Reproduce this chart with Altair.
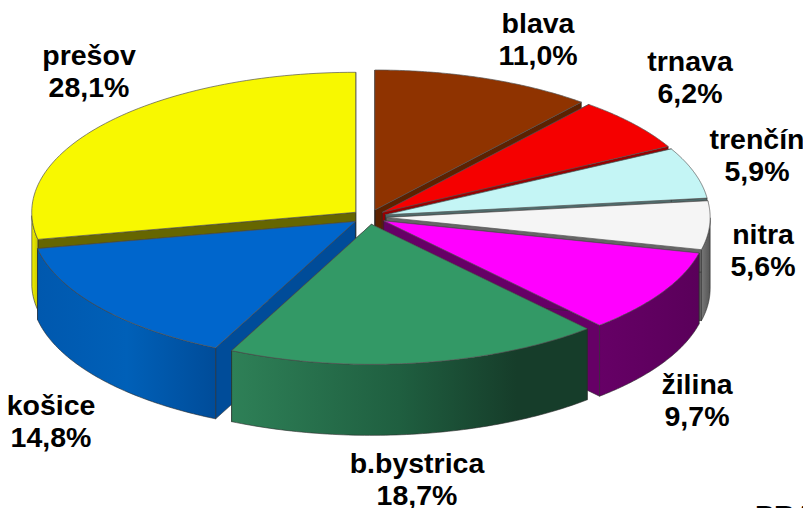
import math
import altair as alt

# --- values
names = ["blava", "trnava", "trenčín", "nitra", "žilina", "b.bystrica", "košice", "prešov"]
shares = [11.0, 6.2, 5.9, 5.6, 9.7, 18.7, 14.8, 28.1]
share_labels = ["11,0%", "6,2%", "5,9%", "5,6%", "9,7%", "18,7%", "14,8%", "28,1%"]

# --- styles
top_colors = ["#8F3300", "#F50000", "#C4F5F5", "#F5F5F5", "#FF00FF", "#339966", "#0066CC", "#F8F800"]
cut_colors = ["#5C2100", "#990000", "#4F6B6B", "#666666", "#660066", "#1D5A3C", "#004C99", "#666600"]
wall_stops = [
    [("#5C2100", 0), ("#5C2100", 1)],
    [("#990000", 0), ("#990000", 1)],
    [("#7FA0A0", 0), ("#7FA0A0", 1)],
    [("#777777", 0), ("#555555", 1)],
    [("#660066", 0), ("#5A005A", 1)],
    [("#2E8057", 0), ("#1F5F40", 0.47), ("#163D2A", 0.8), ("#163D2A", 1)],
    [("#0058AE", 0), ("#0060B8", 0.5), ("#004C99", 1)],
    [("#F0F000", 0), ("#C8C800", 1)],
]


def px(p):
    return p - 8


def py(p):
    return p - 8


# --- geometry of the tilted pie
CX, CY = px(369.0), py(217.0)
RX, RY, DEPTH, EXPLODE = 324.0, 140.0, 71.0, 0.053
STEPS = 72


def rim(ax, ay, t, dy=0.0):
    return [ax + RX * math.sin(t), ay - RY * math.cos(t) + dy]


def feature(points):
    ring = [list(p) for p in points] + [list(points[0])]
    return {"type": "Feature", "properties": {}, "geometry": {"type": "Polygon", "coordinates": [ring]}}


def face(points, fill, stroke="#2A2A2A", sw=0.6):
    return alt.Chart(alt.Data(values=[feature(points)])).mark_geoshape(
        fill=fill, stroke=stroke, strokeWidth=sw
    ).project(type="identity", scale=1, translate=[0, 0])


total = sum(shares)
spans, acc = [], 0.0
for s in shares:
    spans.append((acc / total * 2 * math.pi, (acc + s) / total * 2 * math.pi))
    acc += s

order = sorted(range(len(shares)), key=lambda i: -math.cos(sum(spans[i]) / 2))
layers = []
for i in order:
    t0, t1 = spans[i]
    mid = (t0 + t1) / 2
    ax = CX + EXPLODE * RX * math.sin(mid)
    ay = CY - EXPLODE * RY * math.cos(mid)
    ts = [t0 + (t1 - t0) * k / STEPS for k in range(STEPS + 1)]
    # radial cut faces
    for t in (t1, t0):
        r = rim(ax, ay, t)
        layers.append(face([[ax, ay], r, [r[0], r[1] + DEPTH], [ax, ay + DEPTH]], cut_colors[i]))
    # outer wall: only the part that faces the viewer
    front = [t for t in ts if math.cos(t) <= 0.0]
    if len(front) > 1:
        upper = [rim(ax, ay, t) for t in front]
        lower = [rim(ax, ay, t, DEPTH) for t in reversed(front)]
        grad = alt.Gradient(gradient="linear", x1=0, y1=0, x2=1, y2=0,
                            stops=[alt.GradientStop(color=c, offset=o) for c, o in wall_stops[i]])
        layers.append(face(upper + lower, grad))
    # top face
    layers.append(face([[ax, ay]] + [rim(ax, ay, t) for t in ts], top_colors[i], "#555555", 0.7))

# --- labels: centre x and first baseline, in page pixels
label_pos = {
    "blava": (538, 33), "trnava": (690, 71), "trenčín": (757, 149), "nitra": (763, 244),
    "žilina": (697, 394), "b.bystrica": (417, 473), "košice": (51, 415), "prešov": (89, 65),
}


def text_layer(txt, x, y, align="center"):
    return alt.Chart(alt.Data(values=[{"t": txt}])).mark_text(
        font="Liberation Sans", fontWeight="bold", fontSize=28.5, color="#000000",
        align=align, baseline="alphabetic",
    ).encode(text="t:N", x=alt.value(px(x)), y=alt.value(py(y)))


for n, p in zip(names, share_labels):
    x, y = label_pos[n]
    layers.append(text_layer(n, x, y))
    layers.append(text_layer(p, x, y + 32))

layers.append(text_layer("PRA", 755, 525, "left"))

chart = alt.layer(*layers).properties(
    width=795, height=500, padding=0, background="#FFFFFF",
    autosize=alt.AutoSizeParams(type="none"),
).configure_view(stroke=None)

chart.save("out.html", embed_options={"renderer": "svg", "actions": False})
